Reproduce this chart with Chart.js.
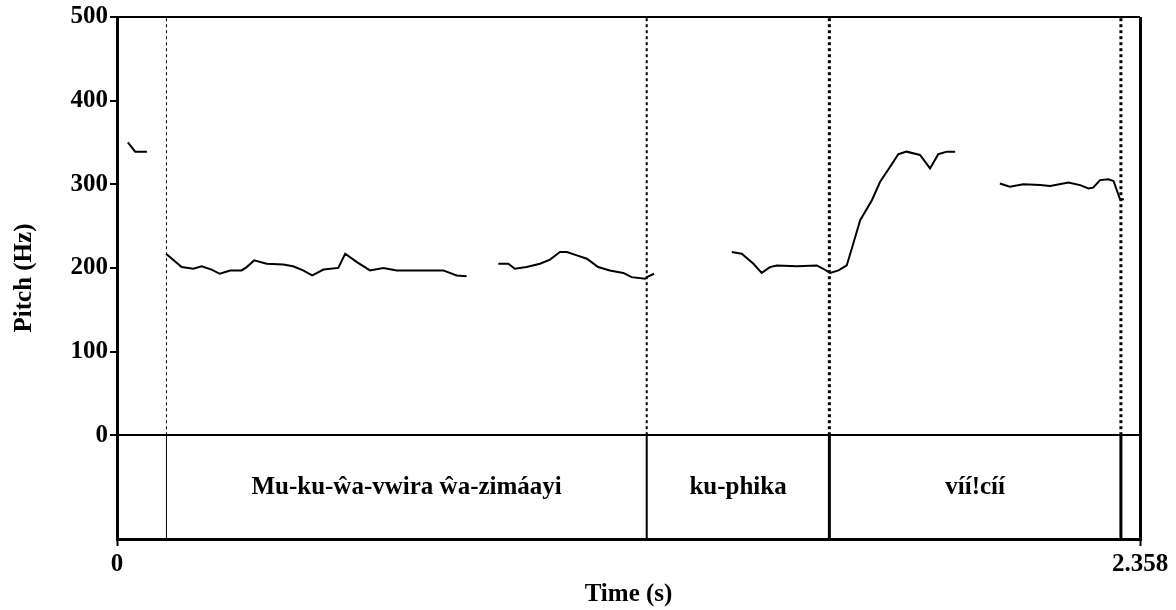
<!DOCTYPE html>
<html>
<head>
<meta charset="utf-8">
<script src="https://cdn.jsdelivr.net/npm/chart.js@4.4.1/dist/chart.umd.min.js"></script>
<style>
  body { margin: 0; background: #fff; }
  canvas { display: block; }
</style>
</head>
<body>
<canvas id="pitchChart" width="1176" height="610"></canvas>
<script>
// time (s) and pitch (Hz), null = unvoiced gap
const times = [
  0.025, 0.042, 0.069, 0.09,
  0.113, 0.149, 0.176, 0.195, 0.218, 0.237, 0.261, 0.287, 0.299, 0.316,
  0.345, 0.383, 0.406, 0.429, 0.450, 0.476, 0.510, 0.526, 0.553, 0.583,
  0.614, 0.645, 0.683, 0.722, 0.752, 0.783, 0.806, 0.84,
  0.879, 0.902, 0.917, 0.944, 0.975, 0.998, 1.021, 1.037, 1.060, 1.083,
  1.109, 1.136, 1.167, 1.186, 1.217, 1.225, 1.238, 1.3,
  1.417, 1.440, 1.467, 1.486, 1.505, 1.521, 1.567, 1.613, 1.628, 1.644,
  1.663, 1.682, 1.697, 1.713, 1.740, 1.759, 1.782, 1.801, 1.820, 1.851,
  1.874, 1.893, 1.913, 1.932, 1.98,
  2.035, 2.058, 2.089, 2.128, 2.151, 2.193, 2.220, 2.239, 2.250, 2.266,
  2.285, 2.297, 2.312, 2.321,
];
const pitch = [
  350, 339, 339, null,
  217, 201, 199, 202, 198, 193, 197, 197, 201, 209,
  205, 204, 202, 197, 191, 198, 200, 217, 207, 197,
  200, 197, 197, 197, 197, 191, 190, null,
  205, 205, 199, 201, 205, 210, 219, 219, 215, 211,
  201, 197, 194, 189, 187, 190, 193, null,
  219, 217, 205, 194, 201, 203, 202, 203, 199, 194,
  197, 203, 229, 257, 281, 303, 321, 336, 339, 335,
  319, 336, 339, 339, null,
  301, 297, 300, 299, 298, 302, 299, 295, 296, 305,
  306, 304, 282, 282,
];

// interval tier
const boundaries = [0.114, 1.221, 1.642, 2.314];
const tierLabels = ["Mu-ku-\u0175a-vwira \u0175a-zim\u00e1ayi", "ku-phika", "v\u00ed\u00ed!c\u00ed\u00ed"];

const yTicks = [0, 100, 200, 300, 400, 500];
const xTicks = [0, 2.358];
const xTickLabels = ["0", "2.358"];

const tMax = 2.358;
const fMax = 500;
const tierDepth = 124.1; // tier box below 0 Hz, in Hz units

const boundaryWidths = [1, 2, 3, 3];
const font = { family: "Liberation Serif", weight: "bold", size: 25 };

const contour = times.map((t, i) => ({ x: t, y: pitch[i] }));

const datasets = [
  {
    data: contour,
    borderColor: "#000",
    borderWidth: 2,
    pointRadius: 0,
    spanGaps: false,
    tension: 0,
  },
];
boundaries.forEach((b, i) => {
  datasets.push({
    data: [{ x: b, y: 0 }, { x: b, y: fMax }],
    borderColor: "#000",
    borderWidth: boundaryWidths[i],
    borderDash: [3, 3],
    pointRadius: 0,
  });
  datasets.push({
    data: [{ x: b, y: -tierDepth }, { x: b, y: 0 }],
    borderColor: "#000",
    borderWidth: boundaryWidths[i],
    pointRadius: 0,
  });
});

const tierText = {
  id: "tierText",
  afterDatasetsDraw(chart) {
    const { ctx, scales } = chart;
    ctx.save();
    ctx.font = "bold 25px 'Liberation Serif'";
    ctx.fillStyle = "#000";
    ctx.textAlign = "center";
    ctx.textBaseline = "middle";
    const y = scales.y.getPixelForValue(-tierDepth / 2);
    tierLabels.forEach((txt, i) => {
      const x = scales.x.getPixelForValue((boundaries[i] + boundaries[i + 1]) / 2);
      ctx.fillText(txt, x, y);
    });
    ctx.restore();
  },
};

const config = {
  type: "line",
  data: { datasets: datasets },
  options: {
    responsive: false,
    animation: false,
    events: [],
    layout: { padding: { top: 16, right: 36, bottom: 0, left: 0 } },
    scales: {
      x: {
        type: "linear",
        min: 0,
        max: tMax,
        afterBuildTicks: (scale) => {
          scale.ticks = xTicks.map((v) => ({ value: v }));
        },
        afterFit: (scale) => {
          scale.height = 71;
        },
        ticks: {
          color: "#000",
          font: font,
          padding: 4,
          maxRotation: 0,
          autoSkip: false,
          callback: (v, i) => xTickLabels[i],
        },
        grid: {
          color: "#000",
          lineWidth: 3,
          tickLength: 7,
          tickColor: "#000",
          tickWidth: 2,
        },
        border: { display: true, color: "#000", width: 3 },
        title: {
          display: true,
          text: "Time (s)",
          color: "#000",
          font: font,
          padding: { top: 0, bottom: 0 },
        },
      },
      y: {
        type: "linear",
        min: -tierDepth,
        max: fMax,
        afterBuildTicks: (scale) => {
          scale.ticks = yTicks.map((v) => ({ value: v }));
        },
        afterFit: (scale) => {
          scale.width = 117;
        },
        ticks: {
          color: "#000",
          font: font,
          padding: 2,
          autoSkip: false,
          callback: (v) => String(v),
        },
        grid: {
          color: (c) => (c.tick && (c.tick.value === 0 || c.tick.value === fMax) ? "#000" : "rgba(0,0,0,0)"),
          lineWidth: 2,
          tickLength: 7,
          tickColor: "#000",
          tickWidth: 2,
        },
        border: { display: true, color: "#000", width: 3 },
        title: {
          display: true,
          text: "Pitch (Hz)",
          color: "#000",
          font: font,
          padding: { top: 10, bottom: 0 },
        },
      },
    },
    plugins: {
      legend: { display: false },
      tooltip: { enabled: false },
    },
  },
  plugins: [tierText],
};

const pitchChart = new Chart(document.getElementById("pitchChart"), config);
</script>
</body>
</html>
